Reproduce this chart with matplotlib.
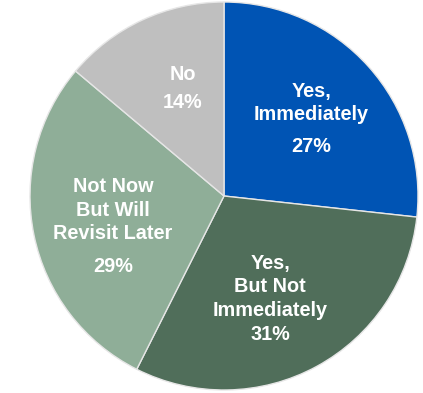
import matplotlib
matplotlib.use("Agg")
import matplotlib.pyplot as plt

categories = ["Yes,\nImmediately", "Yes,\nBut Not\nImmediately",
              "Not Now\nBut Will\nRevisit Later", "No"]
values = [27, 31, 29, 14]
colors = ["#0054B4", "#506E5A", "#8FAE98", "#BFBFBF"]

# label anchor points (pixel-based layout, converted to data units below)
label_xy = [(311, 103), (270, 287), (113, 210), (183, 74)]
pct_xy = [(311, 146), (270, 335), (113, 266), (183, 103)]

W, H = 423, 393
cx, cy, r = 224, 196, 194

plt.rcParams["font.family"] = ["Liberation Sans", "DejaVu Sans"]
fig = plt.figure(figsize=(W / 100, H / 100), dpi=100)
ax = fig.add_axes([(cx - r) / W, (H - cy - r) / H, 2 * r / W, 2 * r / H])
ax.pie(values, colors=colors, startangle=90, counterclock=False,
       wedgeprops=dict(edgecolor="#E6E6E6", linewidth=1.0))
ax.set_xlim(-1, 1)
ax.set_ylim(-1, 1)
ax.set_aspect("equal")
ax.axis("off")


def to_data(px, py):
    return (px - cx) / r, (cy - py) / r


for cat, v, (lx, ly), (qx, qy) in zip(categories, values, label_xy, pct_xy):
    x, y = to_data(lx, ly)
    ax.text(x, y, cat, ha="center", va="center", color="white",
            fontsize=14.3, fontweight="bold", linespacing=1.32)
    x, y = to_data(qx, qy)
    ax.text(x, y, f"{v}%", ha="center", va="center", color="white",
            fontsize=14.3, fontweight="bold")

fig.savefig("out.png", dpi=100)
